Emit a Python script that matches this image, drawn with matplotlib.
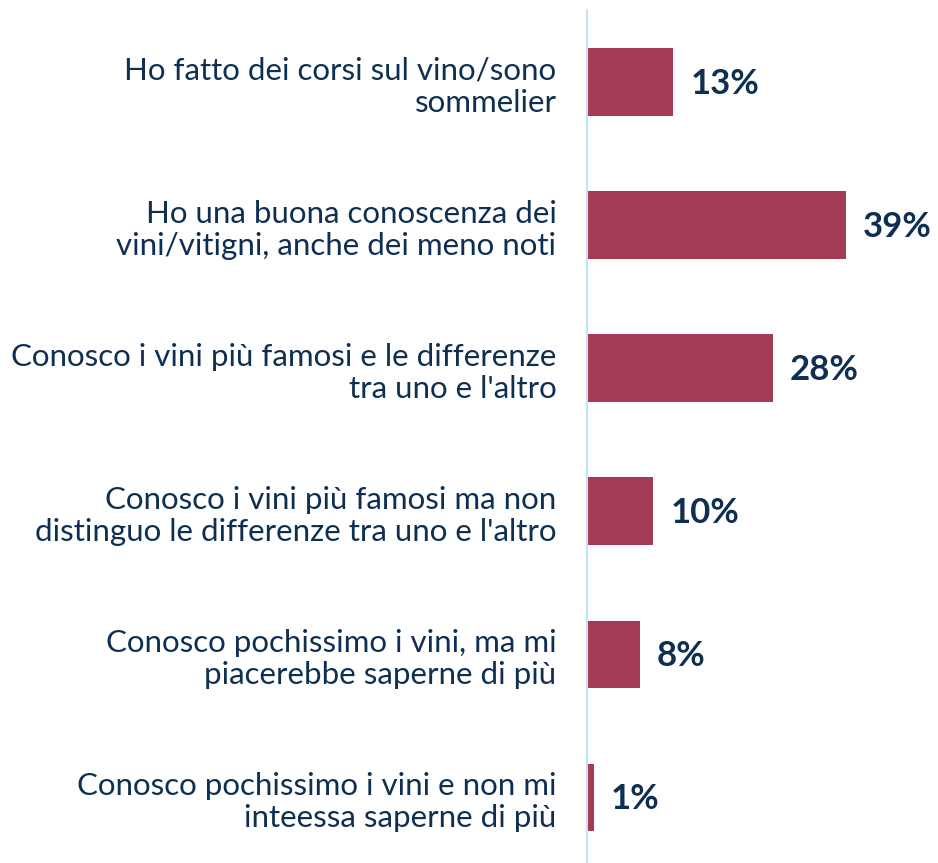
import matplotlib
matplotlib.use("Agg")
import matplotlib.pyplot as plt

categories = [
    "Ho fatto dei corsi sul vino/sono\nsommelier",
    "Ho una buona conoscenza dei\nvini/vitigni, anche dei meno noti",
    "Conosco i vini più famosi e le differenze\ntra uno e l'altro",
    "Conosco i vini più famosi ma non\ndistinguo le differenze tra uno e l'altro",
    "Conosco pochissimo i vini, ma mi\npiacerebbe saperne di più",
    "Conosco pochissimo i vini e non mi\ninteessa saperne di più",
]
values = [13, 39, 28, 10, 8, 1]
value_labels = ["13%", "39%", "28%", "10%", "8%", "1%"]

BAR = "#A43B55"
NAVY = "#0E2F52"
AXIS = "#C6E1F7"

W, H, DPI = 938, 863, 100
fig = plt.figure(figsize=(W / DPI, H / DPI), dpi=DPI)
ax = fig.add_axes([587 / W, 0, 1 - 587 / W, (863 - 10) / H])

y = list(range(len(categories)))
ax.barh(y, values, height=0.47, color=BAR)
ax.set_xlim(0, 351 / 6.64)
ax.set_ylim(5.46, -0.503)

for s in ["top", "right", "bottom"]:
    ax.spines[s].set_visible(False)
ax.spines["left"].set_color(AXIS)
ax.spines["left"].set_linewidth(1.5)
ax.set_xticks([])
ax.set_yticks(y)
ax.set_yticklabels(categories, family="Lato", fontsize=22.5, color=NAVY,
                   linespacing=1.2)
ax.tick_params(axis="y", length=0, pad=22)

for yi, v, lab in zip(y, values, value_labels):
    ax.annotate(lab, (v, yi), xytext=(17, -2), textcoords="offset pixels",
                ha="left", va="center", family="Lato", fontweight="bold",
                fontsize=25, color=NAVY)

fig.savefig("out.png", dpi=DPI)
